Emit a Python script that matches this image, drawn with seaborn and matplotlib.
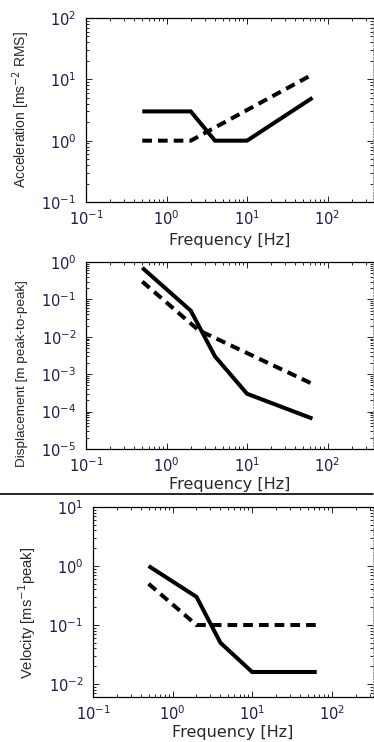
import pandas as pd
import matplotlib
matplotlib.use("Agg")
import matplotlib.pyplot as plt
from matplotlib.lines import Line2D
from matplotlib.ticker import LogLocator, NullFormatter
import seaborn as sns

# -------------------------
# Data
# -------------------------
freq_solid = [0.5, 2, 4, 10, 65]
freq_dash_acc = [0.5, 2, 65]
freq_dash_disp = [0.5, 2.5, 65]
freq_dash_vel = [0.5, 2, 65]

acc_solid = [3, 3, 1, 1, 5]
acc_dash = [1, 1, 12]
disp_solid = [0.7, 0.05, 0.003, 0.0003, 6.5e-5]
disp_dash = [0.3, 0.015, 5.5e-4]
vel_solid = [1.0, 0.3, 0.05, 0.016, 0.016]
vel_dash = [0.5, 0.1, 0.1]

ylabels = ["Acceleration [ms$^{-2}$ RMS]",
           "Displacement [m peak-to-peak]",
           "Velocity [ms$^{-1}$peak]"]
xlabel = "Frequency [Hz]"

TICK_COLOR = "#1c1c50"
LABEL_COLOR = "#26262e"


def make_df(f_solid, v_solid, f_dash, v_dash):
    a = pd.DataFrame({"freq": f_solid, "value": v_solid, "kind": "solid"})
    b = pd.DataFrame({"freq": f_dash, "value": v_dash, "kind": "dashed"})
    return pd.concat([a, b], ignore_index=True)


# df, axes rect in px (left, top, right, bottom), xlim, ylim,
# ylabel centre (x px, y px), ylabel size, xlabel offset below axes (px)
panels = [
    (make_df(freq_solid, acc_solid, freq_dash_acc, acc_dash),
     (86, 18, 373, 202), (0.1, 10 ** 2.565), (0.1, 100), (21, 110), 10.0, 38),
    (make_df(freq_solid, disp_solid, freq_dash_disp, disp_dash),
     (86, 262, 373, 449), (0.1, 10 ** 2.565), (1e-5, 1), (22, 374), 9.7, 36),
    (make_df(freq_solid, vel_solid, freq_dash_vel, vel_dash),
     (93, 507, 373, 697), (0.1, 10 ** 2.52), (10 ** -2.22, 10), (27, 613), 10.6, 35),
]

W, H = 374, 742

sns.set_style("ticks")
plt.rcParams["font.family"] = ["DejaVu Sans"]

fig = plt.figure(figsize=(W / 100, H / 100), dpi=100)

for i, (df, (l, t, r, b), xlim, ylim, (lx, ly), lsize, xoff) in enumerate(panels):
    ax = fig.add_axes([l / W, 1 - b / H, (r - l) / W, (b - t) / H])
    sns.lineplot(data=df, x="freq", y="value", style="kind",
                 dashes={"solid": "", "dashed": (2.4, 1.5)},
                 color="black", linewidth=2.9, legend=False,
                 estimator=None, sort=False, ax=ax)
    for line in ax.lines:
        line.set_solid_capstyle("butt")
        line.set_dash_capstyle("butt")
        line.set_solid_joinstyle("miter")
        line.set_dash_joinstyle("miter")
    ax.set_xscale("log")
    ax.set_yscale("log")
    ax.set_xlim(*xlim)
    ax.set_ylim(*ylim)
    ax.xaxis.set_major_locator(LogLocator(base=10, numticks=10))
    ax.yaxis.set_major_locator(LogLocator(base=10, numticks=10))
    ax.xaxis.set_minor_locator(LogLocator(base=10, subs=range(2, 10), numticks=20))
    ax.yaxis.set_minor_locator(LogLocator(base=10, subs=range(2, 10), numticks=20))
    ax.xaxis.set_minor_formatter(NullFormatter())
    ax.yaxis.set_minor_formatter(NullFormatter())

    ax.tick_params(which="both", direction="in", top=True, right=True,
                   width=0.6, colors="black", labelcolor=TICK_COLOR)
    ax.tick_params(which="major", length=4, labelsize=10.5)
    ax.tick_params(which="minor", length=2)
    ax.tick_params(axis="x", pad=5)
    ax.tick_params(axis="y", pad=7)

    for side in ["left", "bottom", "top"]:
        ax.spines[side].set_linewidth(0.9)
        ax.spines[side].set_color("black")
    ax.spines["right"].set_linestyle(":")
    ax.spines["right"].set_color("#9a9a9a")
    ax.spines["right"].set_linewidth(0.8)

    ax.set_xlabel(xlabel, fontsize=11.5, color=LABEL_COLOR, va="center")
    ax.set_ylabel(ylabels[i], fontsize=lsize, color=LABEL_COLOR, va="center",
                  family=["Liberation Sans", "DejaVu Sans"])
    ax.xaxis.set_label_coords(0.5, -xoff / (b - t))
    ax.yaxis.set_label_coords((lx - l) / (r - l), 1 - (ly - t) / (b - t))

# separator between the middle and bottom panels
fig.add_artist(Line2D([0, 373 / W], [1 - 493.5 / H, 1 - 493.5 / H],
                      color="black", linewidth=1.2))

fig.savefig("out.png", dpi=100)
